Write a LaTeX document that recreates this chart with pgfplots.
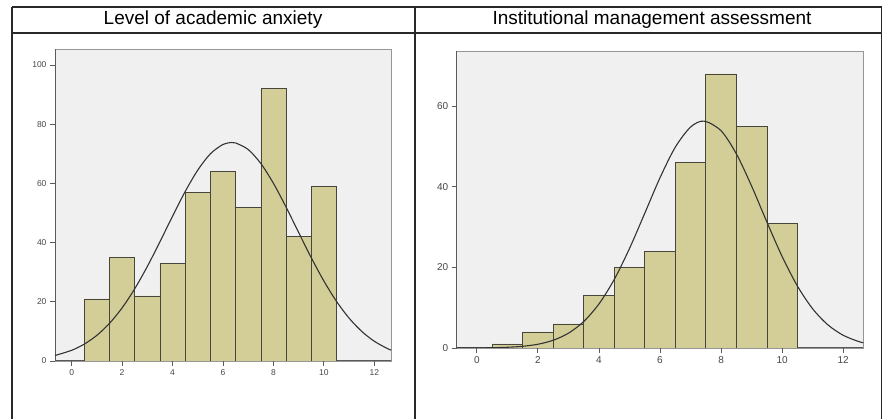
\documentclass[border=0pt]{standalone}
\usepackage{pgfplots}
\pgfplotsset{compat=1.18}
\usepackage{fontspec}
\setmainfont{Liberation Sans}

\definecolor{barfill}{RGB}{211,206,151}
\definecolor{baredge}{RGB}{70,70,60}
\definecolor{plotbg}{RGB}{240,240,240}
\definecolor{framegray}{RGB}{150,150,150}
\definecolor{axisgray}{RGB}{90,90,90}
\definecolor{ticktext}{RGB}{70,70,70}
\definecolor{rule}{RGB}{40,40,40}

\pgfplotsset{
  spssaxis/.style={
    scale only axis,
    anchor=south west,
    xmin=-0.66, xmax=12.66,
    ymin=0,
    xtick={0,2,...,12},
    axis x line*=bottom,
    axis y line*=left,
    axis background/.style={fill=plotbg, draw=framegray, line width=0.9pt},
    axis line style={axisgray, line width=1pt, -},
    tick align=outside,
    major tick length=5pt,
    tick style={axisgray, line width=0.9pt},
    ticklabel style={text=ticktext},
    /pgf/number format/assume math mode=true,
    ybar, bar width=1, bar shift=0pt,
  },
  hist/.style={fill=barfill, draw=baredge, line width=0.6pt},
  normcurve/.style={sharp plot, smooth, no markers, draw=black!80, line width=1.1pt},
}

\begin{document}
\begin{tikzpicture}
\useasboundingbox (0pt,0pt) rectangle (883pt,419pt);

% table rules
\draw[rule, line width=1.2pt] (12pt,412pt) -- (881.5pt,412pt);
\draw[rule, line width=1.2pt] (12pt,386pt) -- (881.5pt,386pt);
\draw[rule, line width=1.2pt] (12pt,412pt) -- (12pt,0pt);
\draw[rule, line width=1.2pt] (415pt,412pt) -- (415pt,0pt);
\draw[rule, line width=1.2pt] (881.5pt,412pt) -- (881.5pt,0pt);

\node[anchor=base, font=\fontsize{19}{20}\selectfont] at (213pt,394pt) {Level of academic anxiety};
\node[anchor=base, font=\fontsize{19}{20}\selectfont] at (652pt,394.5pt) {Institutional management assessment};

% left histogram
\begin{axis}[spssaxis,
  at={(55pt,58pt)}, width=336pt, height=312pt,
  ymax=105.4, ytick={0,20,...,100},
  ticklabel style={font=\fontsize{8.5}{9}\selectfont},
]
\addplot[hist] coordinates {
  (1,21) (2,35) (3,22) (4,33) (5,57) (6,64) (7,52) (8,92) (9,42) (10,59)
};
\addplot[normcurve] coordinates {
  (-0.66,1.86) (0,3.61) (0.5,5.70) (1,8.67) (1.5,12.71) (2,17.94) (2.5,24.39)
  (3,31.93) (3.5,40.28) (4,48.92) (4.5,57.24) (5,64.49) (5.5,69.99) (6,73.16)
  (6.34,73.8) (6.5,73.66) (7,71.43) (7.5,66.71) (8,60.01) (8.5,51.99) (9,43.39)
  (9.5,34.87) (10,27.00) (10.5,20.13) (11,14.46) (11.5,10.00) (12,6.66)
  (12.5,4.27) (12.66,3.70)
};
\end{axis}

% right histogram
\begin{axis}[spssaxis,
  at={(456.7pt,71pt)}, width=406.6pt, height=297pt,
  ymax=73.7, ytick={0,20,40,60},
  ticklabel style={font=\fontsize{10}{11}\selectfont},
]
\addplot[hist] coordinates {
  (1,1) (2,4) (3,6) (4,13) (5,20) (6,24) (7,46) (8,68) (9,55) (10,31)
};
\addplot[normcurve] coordinates {
  (-0.66,0.01) (0,0.03) (0.5,0.07) (1,0.18) (1.5,0.42) (2,0.93) (2.5,1.92)
  (3,3.67) (3.5,6.56) (4,10.93) (4.5,17.00) (5,24.68) (5.5,33.42) (6,42.25)
  (6.5,49.82) (7,54.81) (7.44,56.3) (8,53.91) (8.5,48.19) (9,40.19) (9.5,31.28)
  (10,22.71) (10.5,15.39) (11,9.73) (11.5,5.74) (12,3.16) (12.5,1.62) (12.66,1.31)
};
\end{axis}
\end{tikzpicture}
\end{document}
